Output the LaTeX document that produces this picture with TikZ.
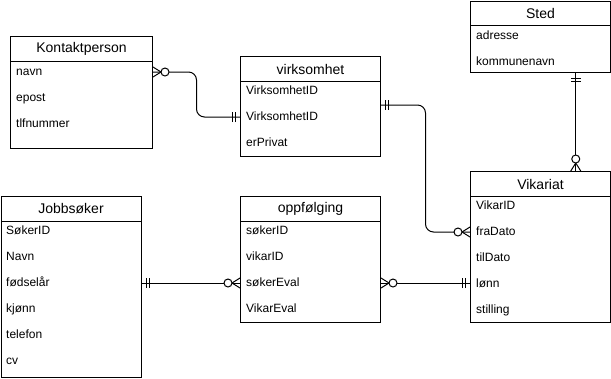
\documentclass[tikz,border=0pt]{standalone}
\usepackage{fontspec}
\setmainfont{Liberation Sans}
\usetikzlibrary{calc}
\begin{document}
\begin{tikzpicture}[x=1pt,y=-1pt,
  conn/.style={line width=1pt, draw=black},
  ent/.style={draw, line width=1pt, anchor=north west, inner sep=0pt, minimum width=140pt, fill=white},
  hdr/.style={draw, line width=1pt, anchor=north west, inner sep=0pt, minimum width=140pt,
    minimum height=25pt, font=\fontsize{14}{16}\selectfont},
  fld/.style={anchor=west, inner sep=0pt, font=\fontsize{12}{14}\selectfont,
    text height=8.6pt, text depth=2.4pt},
  mandone/.pic={\draw[conn] (5,-5) -- (5,5) (8,-5) -- (8,5);},
  zeromany/.pic={\draw[conn] (0,-5) -- (8,0) -- (0,5);
    \draw[conn, fill=white] (12,0) circle[radius=4pt];}
]
\useasboundingbox (0,0) rectangle (611,378);

% Kontaktperson
\node[ent, minimum width=142pt, minimum height=112pt] (kp) at (10,36) {};
\node[hdr, minimum width=142pt] (kph) at (kp.north west) {Kontaktperson};
\node[fld] (kp1) at (16,72) {navn};
\node[fld] (kp2) at (16,98) {epost};
\node[fld] (kp3) at (16,124) {tlfnummer};

% virksomhet
\node[ent, minimum height=100pt] (vk) at (240,56) {};
\node[hdr] (vkh) at (vk.north west) {virksomhet};
\node[fld] (vk1) at (246,91) {VirksomhetID};
\node[fld] (vk2) at (246,117) {VirksomhetID};
\node[fld] (vk3) at (246,143) {erPrivat};

% Sted
\node[ent, minimum height=71pt] (st) at (470,1) {};
\node[hdr, minimum height=24pt] (sth) at (st.north west) {Sted};
\node[fld] (st1) at (476,36) {adresse};
\node[fld] (st2) at (476,62) {kommunenavn};

% Vikariat
\node[ent, minimum height=151pt] (vi) at (470,171) {};
\node[hdr] (vih) at (vi.north west) {Vikariat};
\node[fld] (vi1) at (476,206) {VikarID};
\node[fld] (vi2) at (476,232) {fraDato};
\node[fld] (vi3) at (476,258) {tilDato};
\node[fld] (vi4) at (476,284) {lønn};
\node[fld] (vi5) at (476,310) {stilling};

% oppfølging
\node[ent, minimum height=126pt] (op) at (240,196) {};
\node[hdr] (oph) at (op.north west) {oppfølging};
\node[fld] (op1) at (246,231) {søkerID};
\node[fld] (op2) at (246,257) {vikarID};
\node[fld] (op3) at (246,283) {søkerEval};
\node[fld] (op4) at (246,309) {VikarEval};

% Jobbsøker
\node[ent, minimum height=180.5pt] (js) at (0.5,196) {};
\node[hdr] (jsh) at (js.north west) {Jobbsøker};
\node[fld] (js1) at (6,231) {SøkerID};
\node[fld] (js2) at (6,257) {Navn};
\node[fld] (js3) at (6,283) {fødselår};
\node[fld] (js4) at (6,309) {kjønn};
\node[fld] (js5) at (6,335) {telefon};
\node[fld] (js6) at (6,361) {cv};

% relationship lines
\coordinate (vkout) at (380,105);
\coordinate (stb) at ($(st.south west)!0.75!(st.south east)$);

\draw[conn, rounded corners=8pt] (kp.east |- kp1) -| ($(kp.east)!0.5!(vk.west)$) |- (vk.west |- vk2);
\draw[conn, rounded corners=8pt] (vkout) -| ($(vk.east)!0.5!(vi.west)$) |- (vi.west |- vi2);
\draw[conn] (stb) -- (vi.north -| stb);
\draw[conn] (js.east |- js3) -- (op.west |- op3);
\draw[conn] (op.east |- op3) -- (vi.west |- op3);

% cardinality marks
\pic at (kp.east |- kp1) {zeromany};
\pic[rotate=180] at (vk.west |- vk2) {mandone};
\pic at (vkout) {mandone};
\pic[rotate=180] at (vi.west |- vi2) {zeromany};
\pic[rotate=-90] at (stb) {mandone};
\pic[rotate=90] at (vi.north -| stb) {zeromany};
\pic at (js.east |- js3) {mandone};
\pic[rotate=180] at (op.west |- op3) {zeromany};
\pic at (op.east |- op3) {zeromany};
\pic[rotate=180] at (vi.west |- op3) {mandone};
\end{tikzpicture}
\end{document}
